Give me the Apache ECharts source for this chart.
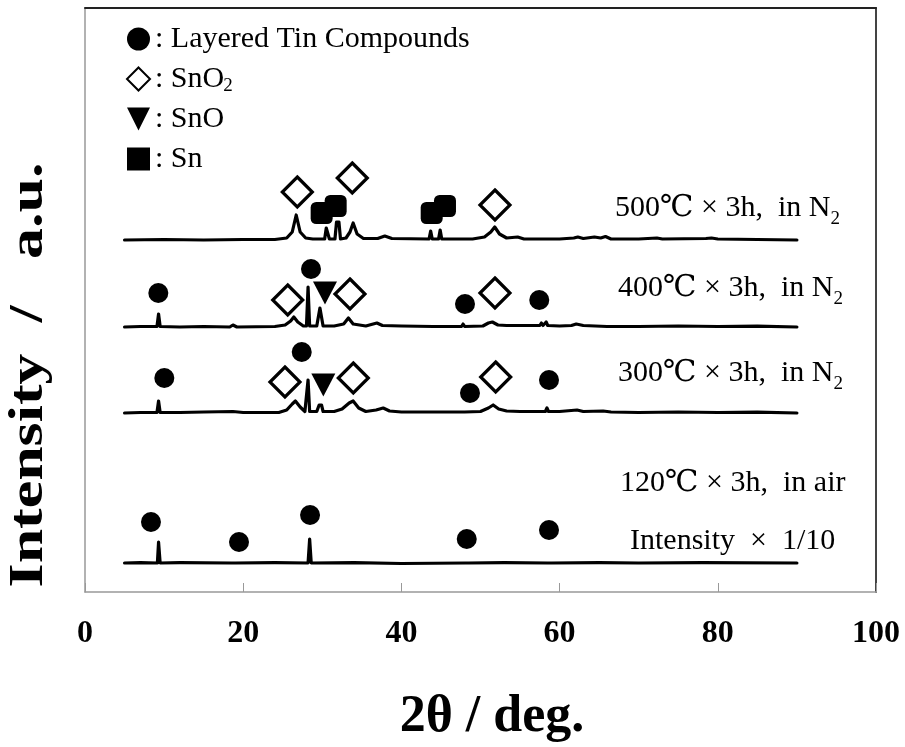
<!DOCTYPE html>
<html><head><meta charset="utf-8">
<script src="https://cdn.jsdelivr.net/npm/echarts@6/dist/echarts.min.js"></script>
<style>html,body{margin:0;padding:0;background:#fff}#c{width:905px;height:747px}</style>
</head><body><div id="c"></div>
<script>
// x-axis ticks (2θ / deg.)
const xTicks = [0, 20, 40, 60, 80, 100];

// vertical offsets (stacking) of each pattern, in chart intensity units
const offset120 = 29;
const offset300 = 179;
const offset400 = 265;
const offset500 = 352;

// patterns: [2θ, relative intensity]
const pattern120 = [[5,0],[7,0.3],[9.15,0],[9.3,21],[9.5,0],[12,0.3],[18.5,0],[18.7,1.5],[19,0],[24,0.3],[28.2,0],[28.4,24],[28.6,0],[34,0.3],[40,-0.5],[48.1,0],[48.3,1.5],[48.5,0],[53,0.3],[58.5,0],[58.7,1.5],[59,0],[65,0.3],[70,0],[78,0.3],[90,0]];
const pattern300 = [[5,0],[7,0.5],[9.1,0.5],[9.3,12],[9.5,0.5],[12,0.5],[15,1],[18.7,1.5],[20,0.5],[24.5,0.5],[25.5,3],[26.2,9],[26.6,12],[27.2,6],[27.8,1.5],[28.0,1.5],[28.2,33],[28.4,1.5],[29.3,1.5],[29.6,8],[29.9,8],[30.1,1.5],[31.5,1.5],[32.5,4],[33.4,10],[33.9,12],[34.6,5],[35.5,1.5],[36.8,3],[37.7,5],[38.5,2],[40,1],[45,1],[47.6,1],[47.8,3],[48,1],[50,1.5],[51,5],[51.6,8],[52.3,4],[53.3,2],[55,1.5],[58.2,1.5],[58.4,5],[58.6,1.5],[60,1.5],[62.2,3],[63,1.5],[65.5,2],[66.5,1],[70,0.5],[75,1],[80,0.5],[85,0.8],[90,0]];
const pattern400 = [[5,0],[7,0.5],[9.1,0.5],[9.3,13],[9.5,0.5],[12,0],[15,0.5],[18.3,0],[18.7,2],[19.2,0],[24,0.5],[25.3,2],[26.0,6],[26.4,10],[26.9,5],[27.6,1],[28.0,1],[28.2,40],[28.4,1],[29.3,1],[29.7,19],[29.9,19],[30.1,1],[31.5,1],[32.7,3],[33.3,9],[33.9,3],[35.5,1],[36.9,4],[37.6,1.5],[40,1],[44,0.5],[47.6,0.5],[47.8,3],[48,0.5],[50.3,1],[51.0,4],[51.5,5],[52.2,2],[53.3,1.5],[57.5,1.5],[57.7,4],[57.9,1.5],[58.3,5],[58.5,1.5],[60,1],[61.5,1.5],[62.1,3],[63,1.5],[66,0.5],[70,0.5],[75,1],[80,0.5],[85,0.8],[90,0]];
const pattern500 = [[5,0],[10,0.5],[15,0],[20,0.5],[24,0.5],[25.5,2],[26.2,8],[26.7,25],[27.2,8],[27.9,2],[28.8,1],[30.3,1],[30.5,12],[30.7,12],[30.9,1],[31.6,1],[31.8,18],[32.1,18],[32.3,1],[33.0,2],[33.5,8],[33.9,17],[34.4,6],[35.2,1.5],[37.0,1.5],[37.9,4],[38.8,1.5],[43.5,1],[43.7,9],[43.9,1],[44.7,1],[44.9,10],[45.1,1],[49,1],[50.5,3],[51.3,8],[51.8,13],[52.4,6],[53.3,2],[54.7,3],[55.5,1],[60,1],[61.8,2],[62.3,3],[63,1.5],[64.4,3],[65.2,2],[65.8,3.5],[66.5,1],[70,1],[72.3,2],[73,1],[78.5,1.5],[79.2,2],[80,1],[85,0.5],[90,0]];

// phase markers: [2θ, chart height]
const layeredTin = [[9.27,299],[28.57,323],[48.04,288],[57.43,292],[10.03,214],[27.40,240],[48.67,199],[58.66,212],[8.34,70],[19.47,50],[28.45,77],[48.26,53],[58.66,62]];
const snO2 = [[26.84,400],[33.79,414],[51.83,387],[25.63,292],[33.50,298],[51.83,299],[25.28,210],[33.92,214],[51.92,215]];
const snO = [[30.34,299],[30.13,207]];
const sn = [[29.92,379],[31.69,386],[43.83,379],[45.51,386]];

const legendNames = ['Layered Tin Compounds', 'SnO2', 'SnO', 'Sn'];
const sampleLabels = ['500℃ × 3h,  in N', '400℃ × 3h,  in N', '300℃ × 3h,  in N', '120℃ × 3h,  in air', 'Intensity  ×  1/10'];

const SERIF = '"Liberation Serif","DejaVu Serif","Times New Roman",serif';
const measureCtx = document.createElement('canvas').getContext('2d');
function textWidth(txt, size) { measureCtx.font = size + 'px ' + SERIF; return measureCtx.measureText(txt).width; }

function shift(arr, off) { return arr.map(p => [p[0], p[1] + off]); }
function lineSeries(data, off) {
  return { type: 'line', data: shift(data, off), showSymbol: false, symbol: 'none', silent: true,
    lineStyle: { color: '#000', width: 3.2, cap: 'round', join: 'round' }, z: 2 };
}
function plainText(x, y, txt, size) {
  return { type: 'text', x: x, y: y, z: 10,
    style: { text: txt, fontFamily: SERIF, fontSize: size, fill: '#000', verticalAlign: 'middle', align: 'left' } };
}
// sample label with optional subscript "2" placed right after the measured main text
function labelText(x, y, txt, sub) {
  const els = [plainText(x, y, txt, 30)];
  if (sub) els.push(plainText(x + textWidth(txt, 30), y + 11, '2', 19));
  return els;
}
const noAxis = { axisTick: { show: false }, axisLabel: { show: false }, splitLine: { show: false } };

const LEG_LEFT = 121, LEG_TOP = 19;
const legendTextX = LEG_LEFT + 5 + 23 + 5;

const chart = echarts.init(document.getElementById('c'), null, { renderer: 'canvas' });
chart.setOption({
  animation: false,
  backgroundColor: '#fff',
  grid: { left: 85, right: 29, top: 8, bottom: 155 },
  legend: {
    data: [
      { name: legendNames[0] },
      { name: legendNames[1] },
      { name: legendNames[2], icon: 'path://M0,0L20,0L10,20Z' },
      { name: legendNames[3], icon: 'rect' }
    ],
    orient: 'vertical', left: LEG_LEFT, top: LEG_TOP, itemWidth: 23, itemHeight: 23, itemGap: 10,
    selectedMode: false,
    formatter: n => n === 'SnO2' ? ': SnO' : ': ' + n,
    textStyle: { fontFamily: SERIF, fontSize: 30, lineHeight: 28, color: '#000' }
  },
  xAxis: [{
    type: 'value', min: xTicks[0], max: xTicks[xTicks.length - 1], interval: 20, position: 'bottom',
    axisLine: { onZero: false, lineStyle: { color: '#999', width: 1.5 } },
    axisTick: { inside: true, length: 9, lineStyle: { color: '#999' } },
    axisLabel: { margin: 26, fontFamily: SERIF, fontWeight: 'bold', fontSize: 32, color: '#000' },
    splitLine: { show: false }
  }, Object.assign({
    type: 'value', min: 0, max: 100, position: 'top',
    axisLine: { show: true, onZero: false, lineStyle: { color: '#222', width: 2 } }
  }, noAxis)],
  yAxis: [Object.assign({
    type: 'value', min: 0, max: 584, position: 'left',
    axisLine: { show: true, onZero: false, lineStyle: { color: '#999', width: 1.5 } }
  }, noAxis), Object.assign({
    type: 'value', min: 0, max: 584, position: 'right',
    axisLine: { show: true, onZero: false, lineStyle: { color: '#444', width: 2 } }
  }, noAxis)],
  graphic: [].concat(
    labelText(615, 208, sampleLabels[0], true),
    labelText(618, 288, sampleLabels[1], true),
    labelText(618, 373, sampleLabels[2], true),
    labelText(620, 483, sampleLabels[3], false),
    labelText(630, 541, sampleLabels[4], false),
    [plainText(legendTextX + textWidth(': SnO', 30), 86, '2', 19),
    { type: 'text', x: 30, y: 375, rotation: Math.PI / 2, scaleX: 1.29, z: 10,
      style: { text: 'Intensity  /   a.u.', fontFamily: SERIF, fontWeight: 'bold', fontSize: 48, fill: '#000', align: 'center', verticalAlign: 'middle' } },
    { type: 'text', x: 492, y: 718, z: 10,
      style: { text: '2θ / deg.', fontFamily: SERIF, fontWeight: 'bold', fontSize: 52, fill: '#000', align: 'center', verticalAlign: 'middle' } }]
  ),
  series: [
    lineSeries(pattern120, offset120),
    lineSeries(pattern300, offset300),
    lineSeries(pattern400, offset400),
    lineSeries(pattern500, offset500),
    { name: 'Layered Tin Compounds', type: 'scatter', data: layeredTin, symbol: 'circle', symbolSize: 20,
      itemStyle: { color: '#000', opacity: 1 }, z: 5 },
    { name: 'SnO2', type: 'scatter', data: snO2, symbol: 'diamond', symbolSize: 30,
      itemStyle: { color: '#fff', borderColor: '#000', borderWidth: 3.2, opacity: 1 }, z: 5 },
    { name: 'SnO', type: 'scatter', data: snO, symbol: 'triangle', symbolRotate: 180, symbolSize: [24, 23],
      itemStyle: { color: '#000', opacity: 1 }, z: 5 },
    { name: 'Sn', type: 'scatter', data: sn, symbol: 'roundRect', symbolSize: 22,
      itemStyle: { color: '#000', opacity: 1 }, z: 5 }
  ]
});
</script>
</body></html>
